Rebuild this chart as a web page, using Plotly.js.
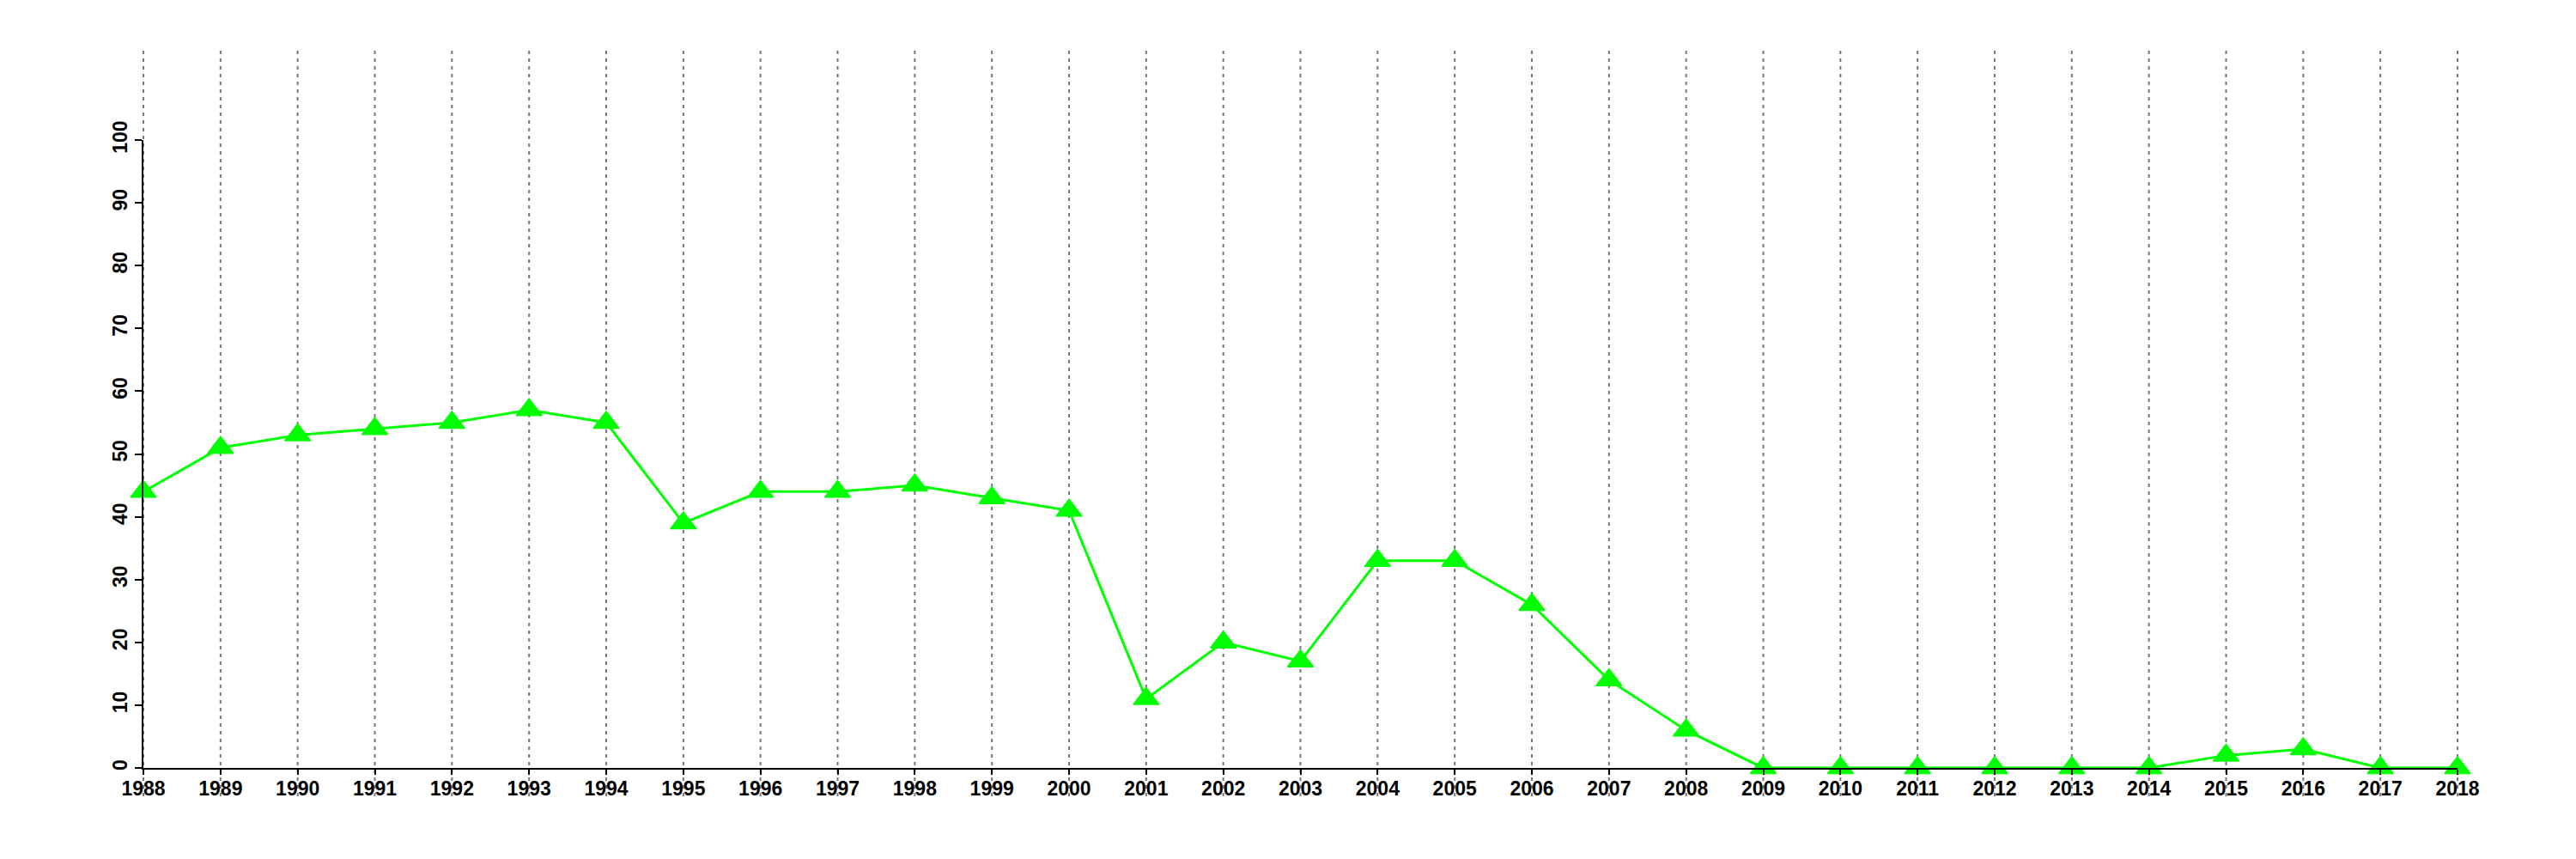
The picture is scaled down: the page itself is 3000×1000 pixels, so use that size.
<!DOCTYPE html>
<html>
<head>
<meta charset="utf-8">
<script src="https://cdn.plot.ly/plotly-3.0.1.min.js"></script>
<style>html,body{margin:0;padding:0;background:#fff;}#chart{width:3000px;height:1000px;}</style>
</head>
<body>
<div id="chart"></div>
<script>
// Data
const years = [1988,1989,1990,1991,1992,1993,1994,1995,1996,1997,1998,1999,2000,2001,2002,2003,2004,2005,2006,2007,2008,2009,2010,2011,2012,2013,2014,2015,2016,2017,2018];
const values = [44,51,53,54,55,57,55,39,44,44,45,43,41,11,20,17,33,33,26,14,6,0,0,0,0,0,0,2,3,0,0];
const yTicks = [0,10,20,30,40,50,60,70,80,90,100];

const xRange = [years[0], years[years.length - 1]];
const yRange = [0, 100];

// vertical dotted guide lines that extend beyond the plot area
const shapes = years.map(function (yr) {
  const px = (yr - xRange[0]) / (xRange[1] - xRange[0]);
  return {
    type: 'line', xref: 'paper', yref: 'paper',
    x0: px, x1: px, y0: -0.045, y1: 1.143,
    line: {color: '#777777', width: 2, dash: '4px,5px'},
    layer: 'below'
  };
});

const trace = {
  x: years, y: values, type: 'scatter', mode: 'lines+markers',
  line: {color: '#00ff00', width: 3},
  marker: {symbol: 'triangle-up', size: 26, color: '#00ff00', line: {color: '#00ff00', width: 1.5}},
  cliponaxis: false,
  showlegend: false
};

const tickFont = {family: 'Liberation Sans, Arial, sans-serif', size: 23, color: '#000000', weight: 'bold'};

const layout = {
  width: 3000, height: 1000,
  margin: {l: 167, r: 138, t: 163, b: 106, pad: 0},
  paper_bgcolor: '#ffffff', plot_bgcolor: '#ffffff',
  showlegend: false,
  shapes: shapes,
  xaxis: {
    range: xRange, tickmode: 'array', tickvals: years, ticktext: years.map(String),
    showgrid: false, zeroline: false,
    showline: true, linecolor: '#000000', linewidth: 2,
    ticks: 'outside', ticklen: 6, tickwidth: 2, tickcolor: '#000000',
    tickfont: tickFont, tickangle: 0, ticklabelstandoff: -4
  },
  yaxis: {
    range: yRange, tickmode: 'array', tickvals: yTicks, ticktext: yTicks.map(String),
    showgrid: false, zeroline: false,
    showline: true, linecolor: '#000000', linewidth: 2,
    ticks: 'outside', ticklen: 8, tickwidth: 2, tickcolor: '#000000',
    tickfont: tickFont, tickangle: -90
  }
};

Plotly.newPlot('chart', [trace], layout, {displayModeBar: false, staticPlot: true});
</script>
</body>
</html>
